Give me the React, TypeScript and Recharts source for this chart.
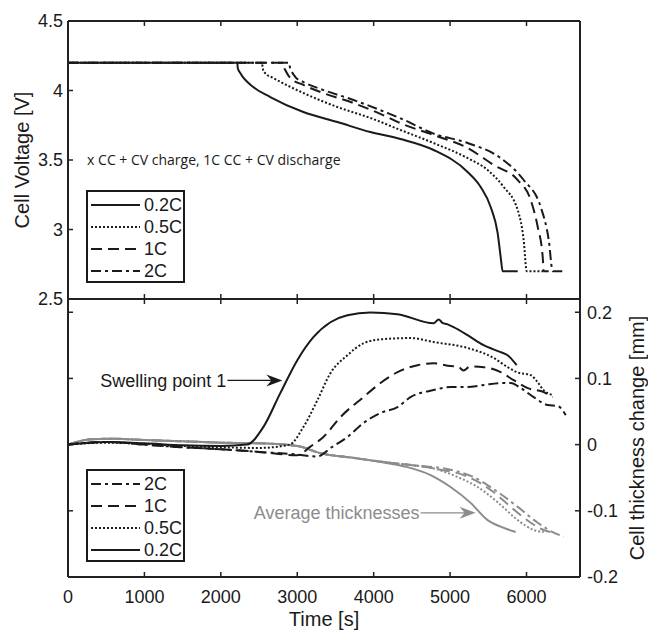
import React from "react";
import { LineChart, Line, XAxis, YAxis, Legend, ReferenceDot, Label } from "recharts";

const FONT = '"Liberation Sans", Arial, sans-serif';
const INK = "#1a1a1a";
const GREY = "#8c8c8c";

const timeTicks = [0, 1000, 2000, 3000, 4000, 5000, 6000];
const voltTicks = [2.5, 3, 3.5, 4, 4.5];
const thickTicks = [-0.2, -0.1, 0, 0.1, 0.2];
const rates = ["0.2C", "0.5C", "1C", "2C"];
const dashes = ["", "2 2", "11 6", "10 4 3 4"];

// cell voltage [V] per charge rate
const vTime02 = [0, 2215, 2222, 2254, 2425, 2647, 3080, 3526, 3958, 4351, 4784, 5229, 5400, 5531, 5622, 5662, 5688, 5885];
const vVolt02 = [4.2, 4.2, 4.16, 4.126, 4.025, 3.953, 3.845, 3.773, 3.701, 3.651, 3.572, 3.414, 3.306, 3.162, 2.975, 2.802, 2.7, 2.7];
const vTime05 = [0, 2540, 2547, 2580, 2687, 3080, 3526, 3958, 4351, 4784, 5229, 5491, 5701, 5885, 5963, 6003, 6225];
const vVolt05 = [4.2, 4.2, 4.16, 4.125, 4.09, 3.982, 3.881, 3.802, 3.716, 3.622, 3.514, 3.428, 3.306, 3.14, 2.924, 2.7, 2.7];
const vTime1 = [0, 2820, 2827, 2850, 2909, 3080, 3303, 3735, 4181, 4351, 4784, 5229, 5570, 5885, 6055, 6147, 6212, 6225, 6290];
const vVolt1 = [4.2, 4.2, 4.17, 4.14, 4.09, 4.04, 3.989, 3.91, 3.809, 3.765, 3.68, 3.586, 3.464, 3.356, 3.212, 3.018, 2.802, 2.7, 2.7];
const vTime2 = [0, 2896, 2903, 2925, 2975, 3080, 3303, 3735, 4181, 4351, 4784, 5229, 5662, 5963, 6186, 6291, 6343, 6514];
const vVolt2 = [4.2, 4.2, 4.17, 4.14, 4.097, 4.061, 4.011, 3.932, 3.838, 3.8, 3.69, 3.622, 3.514, 3.356, 3.162, 2.924, 2.7, 2.7];

// measured cell thickness change [mm]
const sTime02 = [0, 500, 1000, 1500, 2000, 2340, 2556, 2778, 3001, 3211, 3434, 3656, 3958, 4312, 4784, 4850, 4900, 4960, 5046, 5229, 5439, 5662, 5753, 5871];
const sThick02 = [0, 0.004, 0.002, -0.001, -0.002, 0.0, 0.0265, 0.0778, 0.1276, 0.1623, 0.1849, 0.1955, 0.1995, 0.197, 0.1834, 0.189, 0.184, 0.182, 0.1774, 0.1653, 0.1502, 0.1397, 0.1351, 0.12];
const sTime05 = [0, 500, 1000, 1500, 2000, 2500, 2900, 3080, 3263, 3434, 3656, 3866, 4089, 4482, 4784, 5229, 5570, 5753, 5885, 6055, 6147, 6225, 6343];
const sThick05 = [0, 0.003, 0.001, -0.002, -0.004, -0.005, 0.0, 0.0265, 0.067, 0.108, 0.135, 0.153, 0.159, 0.161, 0.155, 0.146, 0.131, 0.117, 0.109, 0.105, 0.094, 0.082, 0.075];
const sTime1 = [0, 500, 1000, 1500, 2000, 2500, 3000, 3172, 3342, 3565, 3866, 4089, 4312, 4574, 4784, 5007, 5100, 5177, 5260, 5439, 5662, 5832, 6016, 6225, 6343];
const sThick1 = [0, 0.004, 0.0, -0.004, -0.007, -0.011, -0.016, -0.003, 0.0115, 0.0416, 0.0718, 0.093, 0.1095, 0.12, 0.123, 0.1186, 0.118, 0.112, 0.118, 0.117, 0.1095, 0.0974, 0.0854, 0.0793, 0.0718];
const sTime2 = [0, 500, 1000, 1500, 2000, 2500, 3000, 3260, 3450, 3656, 3866, 4089, 4312, 4482, 4784, 5007, 5229, 5439, 5662, 5793, 5924, 6094, 6278, 6409, 6514];
const sThick2 = [0, 0.004, 0.0, -0.004, -0.007, -0.011, -0.015, -0.018, -0.004, 0.0115, 0.0326, 0.0477, 0.0567, 0.0718, 0.0824, 0.0869, 0.0869, 0.09, 0.093, 0.093, 0.0854, 0.0718, 0.0597, 0.0582, 0.0446];

// average thickness change [mm]
const aTime02 = [0, 300, 600, 1000, 1500, 2000, 2500, 3000, 3303, 3735, 4181, 4443, 4744, 5006, 5269, 5491, 5662, 5858];
const aThick02 = [0, 0.008, 0.009, 0.007, 0.005, 0.003, 0.002, -0.002, -0.013, -0.02, -0.028, -0.034, -0.046, -0.064, -0.088, -0.114, -0.124, -0.132];
const aTime05 = [0, 300, 600, 1000, 1500, 2000, 2500, 3000, 3303, 3735, 4181, 4500, 4784, 5098, 5360, 5622, 5885, 6094, 6225];
const aThick05 = [0, 0.008, 0.009, 0.007, 0.005, 0.003, 0.002, -0.002, -0.013, -0.02, -0.027, -0.031, -0.036, -0.049, -0.064, -0.087, -0.114, -0.129, -0.132];
const aTime1 = [0, 300, 600, 1000, 1500, 2000, 2500, 3000, 3303, 3735, 4181, 4500, 4875, 5177, 5531, 5793, 6055, 6225, 6317];
const aThick1 = [0, 0.008, 0.009, 0.007, 0.005, 0.003, 0.002, -0.002, -0.013, -0.02, -0.027, -0.031, -0.038, -0.046, -0.0685, -0.094, -0.118, -0.129, -0.132];
const aTime2 = [0, 300, 600, 1000, 1500, 2000, 2500, 3000, 3303, 3735, 4181, 4500, 5006, 5308, 5622, 5885, 6147, 6356, 6487];
const aThick2 = [0, 0.008, 0.009, 0.007, 0.005, 0.003, 0.002, -0.002, -0.013, -0.02, -0.027, -0.031, -0.038, -0.049, -0.0715, -0.094, -0.118, -0.133, -0.139];

const chargeNote = { t: 250, v: 3.5, text: "x CC + CV charge, 1C CC + CV discharge" };
const swellNote = { t: 2805, v: 0.097, text: "Swelling point 1" };
const averageNote = { t: 5334, v: -0.103, text: "Average thicknesses" };

const zip = (ts: number[], vs: number[]) => ts.map((t, i) => ({ t, v: vs[i] }));

const voltage = [zip(vTime02, vVolt02), zip(vTime05, vVolt05), zip(vTime1, vVolt1), zip(vTime2, vVolt2)];
const swelling = [zip(sTime02, sThick02), zip(sTime05, sThick05), zip(sTime1, sThick1), zip(sTime2, sThick2)];
const average = [zip(aTime02, aThick02), zip(aTime05, aThick05), zip(aTime1, aThick1), zip(aTime2, aThick2)];

const W = 648;
const H = 632;
const axisLine = { stroke: "#222", strokeWidth: 2 };
const tickLine = { stroke: "#222", strokeWidth: 1.5 };
const tickFont = { fontSize: 18, fontFamily: FONT, fill: INK };
const blank = () => "";

function RateKey({ order }: { order: number[] }) {
  return (
    <svg width={99} height={93} style={{ display: "block" }}>
      <rect x={1} y={1} width={97} height={91} fill="#fff" stroke={INK} strokeWidth={2} />
      {order.map((k, row) => {
        const y = 15 + row * 22;
        return (
          <g key={k}>
            <line x1={5} x2={54} y1={y} y2={y} stroke={INK} strokeWidth={2} strokeDasharray={dashes[k]} />
            <text x={58} y={y} dy="0.36em" fontSize={18} fontFamily={FONT} fill={INK}>
              {rates[k]}
            </text>
          </g>
        );
      })}
    </svg>
  );
}

const sideTitle = (text: string, shift: number) => (props: any) => {
  const { x, y, width, height } = props.viewBox;
  const cx = x + width / 2 + shift;
  const cy = y + height / 2;
  return (
    <text x={cx} y={cy} transform={`rotate(-90 ${cx} ${cy})`} textAnchor="middle" dominantBaseline="central" fontSize={20} fontFamily={FONT} fill={INK}>
      {text}
    </text>
  );
};

const timeTitle = (props: any) => {
  const { x, y, width } = props.viewBox;
  return (
    <text x={x + width / 2} y={y + 49} textAnchor="middle" fontSize={20} fontFamily={FONT} fill={INK}>
      Time [s]
    </text>
  );
};

const arrowNote = (text: string, colour: string) => (props: any) => {
  const { cx, cy } = props;
  return (
    <g>
      <text x={cx - 56} y={cy} dy="0.36em" textAnchor="end" fontSize={18} fontFamily={FONT} fill={colour}>
        {text}
      </text>
      <line x1={cx - 55} x2={cx - 10} y1={cy} y2={cy} stroke={colour} strokeWidth={1.3} />
      <path d={`M${cx},${cy} l-16,-6 l5,6 l-5,6 z`} fill={colour} />
    </g>
  );
};

const plainNote = (text: string) => (props: any) => (
  <text x={props.cx} y={props.cy} dy="0.36em" fontSize={14} fontFamily='"Open Sans", sans-serif' fill={INK}>
    {text}
  </text>
);

export default function App() {
  return (
    <div style={{ position: "absolute", left: 0, top: 0, width: W, height: H, background: "#fff" }}>
      <div style={{ position: "absolute", left: 0, top: 0 }}>
        <LineChart width={W} height={H} margin={{ top: 20, right: 0, bottom: 332, left: 0 }}>
          <XAxis dataKey="t" type="number" domain={[0, 6700]} ticks={timeTicks} allowDataOverflow height={1}
            axisLine={axisLine} tickLine={tickLine} tickSize={-5} tickFormatter={blank} />
          <XAxis xAxisId="top" orientation="top" dataKey="t" type="number" domain={[0, 6700]} ticks={timeTicks} allowDataOverflow height={1}
            axisLine={axisLine} tickLine={tickLine} tickSize={-5} tickFormatter={blank} />
          <YAxis yAxisId="volt" domain={[2.5, 4.5]} ticks={voltTicks} width={68} interval={0}
            axisLine={axisLine} tickLine={tickLine} tickSize={-5} tickMargin={10} tick={tickFont}>
            <Label content={sideTitle("Cell Voltage [V]", -12)} />
          </YAxis>
          <YAxis yAxisId="voltR" orientation="right" domain={[2.5, 4.5]} ticks={voltTicks} width={68} interval={0}
            axisLine={axisLine} tickLine={tickLine} tickSize={-5} tickFormatter={blank} />
          {voltage.map((d, k) => (
            <Line key={rates[k]} yAxisId="volt" data={d} dataKey="v" type="monotone" stroke={INK} strokeWidth={2}
              strokeDasharray={dashes[k]} dot={false} activeDot={false} isAnimationActive={false} />
          ))}
          <ReferenceDot yAxisId="volt" x={chargeNote.t} y={chargeNote.v} ifOverflow="visible" shape={plainNote(chargeNote.text)} />
          <Legend layout="horizontal" verticalAlign="middle" align="center"
            wrapperStyle={{ left: 86, top: 190, width: 99, height: 93 }}
            content={() => <RateKey order={[0, 1, 2, 3]} />} />
        </LineChart>
      </div>
      <div style={{ position: "absolute", left: 0, top: 0 }}>
        <LineChart width={W} height={H} margin={{ top: 298, right: 0, bottom: 0, left: 0 }}>
          <XAxis dataKey="t" type="number" domain={[0, 6700]} ticks={timeTicks} allowDataOverflow height={55} interval={0}
            axisLine={axisLine} tickLine={tickLine} tickSize={-5} tickMargin={18} tick={tickFont}>
            <Label content={timeTitle} />
          </XAxis>
          <XAxis xAxisId="top" orientation="top" dataKey="t" type="number" domain={[0, 6700]} ticks={timeTicks} allowDataOverflow height={1}
            axisLine={axisLine} tickLine={tickLine} tickSize={-5} tickFormatter={blank} />
          <YAxis yAxisId="left" domain={[-0.2, 0.22]} ticks={thickTicks} width={68} interval={0} allowDataOverflow
            axisLine={axisLine} tickLine={tickLine} tickSize={-5} tickFormatter={blank} />
          <YAxis yAxisId="thick" orientation="right" domain={[-0.2, 0.22]} ticks={thickTicks} width={68} interval={0} allowDataOverflow
            axisLine={axisLine} tickLine={tickLine} tickSize={-5} tickMargin={12} tick={tickFont}>
            <Label content={sideTitle("Cell thickness change [mm]", 23)} />
          </YAxis>
          {average.map((d, k) => (
            <Line key={"a" + rates[k]} yAxisId="thick" data={d} dataKey="v" type="monotone" stroke={GREY} strokeWidth={2}
              strokeDasharray={dashes[k]} dot={false} activeDot={false} isAnimationActive={false} />
          ))}
          {swelling.map((d, k) => (
            <Line key={"s" + rates[k]} yAxisId="thick" data={d} dataKey="v" type="monotone" stroke={INK} strokeWidth={2}
              strokeDasharray={dashes[k]} dot={false} activeDot={false} isAnimationActive={false} />
          ))}
          <ReferenceDot yAxisId="thick" x={swellNote.t} y={swellNote.v} ifOverflow="visible" shape={arrowNote(swellNote.text, INK)} />
          <ReferenceDot yAxisId="thick" x={averageNote.t} y={averageNote.v} ifOverflow="visible" shape={arrowNote(averageNote.text, GREY)} />
          <Legend layout="horizontal" verticalAlign="middle" align="center"
            wrapperStyle={{ left: 86, top: 469, width: 99, height: 93 }}
            content={() => <RateKey order={[3, 2, 1, 0]} />} />
        </LineChart>
      </div>
    </div>
  );
}
